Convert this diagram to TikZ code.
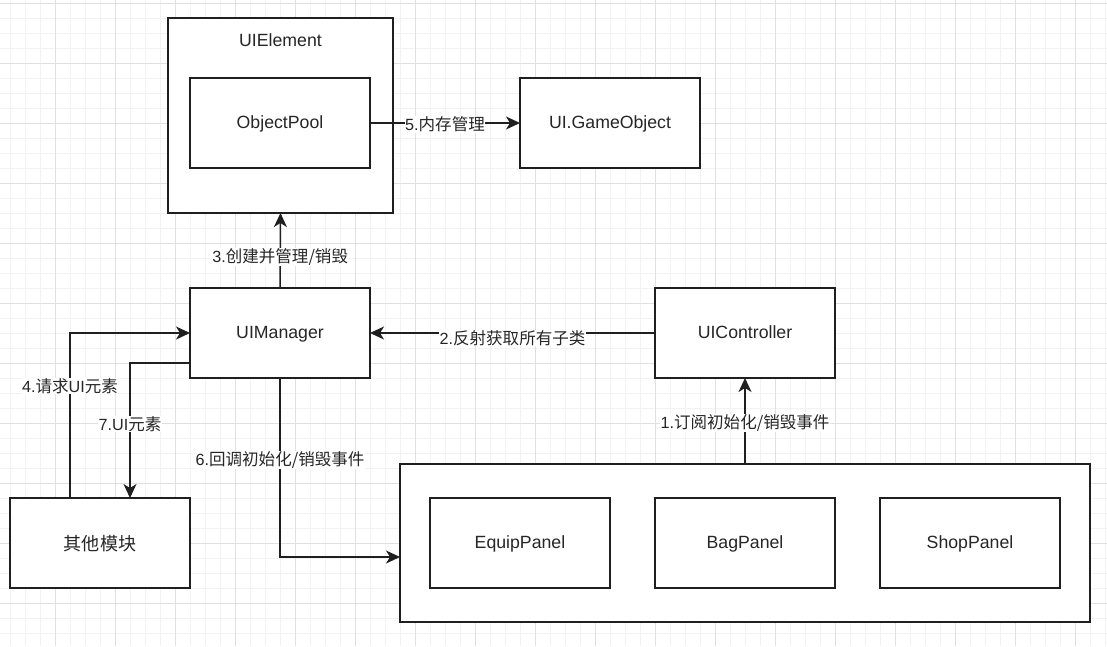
\documentclass[tikz,border=0pt]{standalone}
\usepackage{fontspec}
\setmainfont{Liberation Sans}
\newfontfamily\cjk[Scale=1.02]{Noto Sans CJK SC}
\usetikzlibrary{arrows.meta,calc}
\newcommand{\zh}[1]{{\cjk #1}}
\begin{document}
\begin{tikzpicture}[x=1pt,y=-1pt,
  box/.style={draw=black!88,line width=1.5pt,fill=white,rectangle,inner sep=0pt,outer sep=0pt,
    minimum width=180pt,minimum height=90pt,font=\fontsize{17.7}{21}\selectfont,text=black!85,
    text depth=1pt},
  conn/.style={draw=black!88,line width=1.5pt,-{Stealth[length=14pt,width=13pt,inset=4pt]}},
  lbl/.style={fill=white,inner sep=0.5pt,font=\fontsize{16.2}{19}\selectfont,text=black!85},
  minorgrid/.style={draw=black!5,line width=0.7pt},
  majorgrid/.style={draw=black!12,line width=0.9pt}]
\useasboundingbox (0,0) rectangle (1107,646);
\fill[white] (0,0) rectangle (1107,646);
\foreach \x in {10,25,...,1105} \draw[minorgrid] (\x,0) -- (\x,646);
\foreach \y in {3,18,...,645} \draw[minorgrid] (0,\y) -- (1107,\y);
\foreach \x in {55,115,...,1105} \draw[majorgrid] (\x,0) -- (\x,646);
\foreach \y in {3,63,...,645} \draw[majorgrid] (0,\y) -- (1107,\y);

% containers
\node[box,minimum width=225pt,minimum height=195pt] (uie) at (280.5,115.5) {};
\node[font=\fontsize{17.7}{21}\selectfont,text=black!85] (uietitle) at (280.5,40) {UIElement};
\node[box] (pool) at (280,123) {ObjectPool};
\node[box] (go) at (610,123) {UI.GameObject};
\node[box] (mgr) at (280,333) {UIManager};
\node[box] (ctrl) at (745,333) {UIController};
\node[box] (other) at (100,543) {\zh{其他模块}};
\node[box,minimum width=690pt,minimum height=158pt] (cont) at (745,543) {};
\node[box] (equip) at (520,543) {EquipPanel};
\node[box] (bag) at (745,543) {BagPanel};
\node[box] (shop) at (970,543) {ShopPanel};

% connectors
\draw[conn] (pool.east) -- node[lbl,yshift=-1.5pt] (l5) {5.\zh{内存管理}} (go.west);
\draw[conn] (mgr.north) -- node[lbl,pos=0.41] (l3) {3.\zh{创建并管理/销毁}} (uie.south);
\draw[conn] (ctrl.west) -- node[lbl,yshift=-5pt] (l2) {2.\zh{反射获取所有子类}} (mgr.east);
\draw[conn] (cont.north) -- node[lbl,yshift=-2pt] (l1) {1.\zh{订阅初始化/销毁事件}} (ctrl.south);
\draw[conn] ([xshift=-30pt]other.north) |- node[lbl,pos=0.34] (l4) {4.\zh{请求}UI\zh{元素}} (mgr.west);
\draw[conn] ([yshift=-30pt]mgr.west) -| node[lbl,pos=0.726] (l7) {7.UI\zh{元素}} ([xshift=30pt]other.north);
\draw[conn] (mgr.south) |- node[lbl,pos=0.229] (l6) {6.\zh{回调初始化/销毁事件}} ([yshift=-14pt]cont.west);
\end{tikzpicture}
\end{document}
